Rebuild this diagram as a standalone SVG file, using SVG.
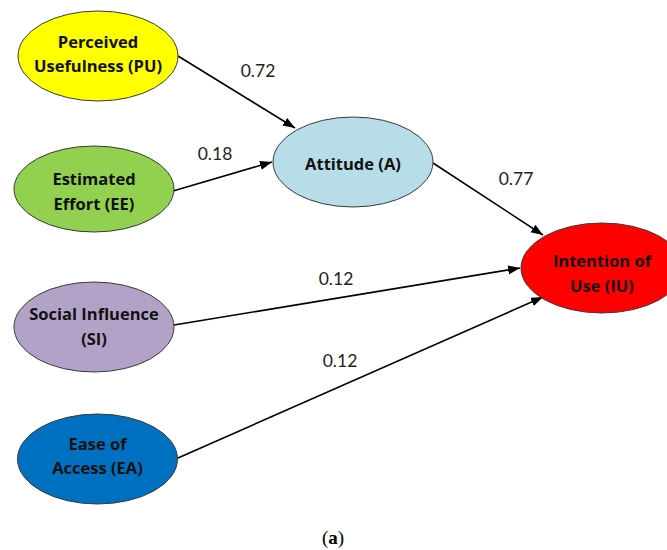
<svg xmlns="http://www.w3.org/2000/svg" width="667" height="550" viewBox="0 0 667 550">
<style>
.n{stroke:#3a3a3a;stroke-width:1}
.t{font-family:"Open Sans",Lato,"Liberation Sans",sans-serif;font-weight:bold;font-size:16.5px;fill:#111;text-anchor:middle}
.l{font-family:Lato,"Open Sans","Liberation Sans",sans-serif;font-size:17.5px;fill:#222;text-anchor:middle}
.c{stroke:#000;stroke-width:1.6;fill:none;marker-end:url(#ah)}
</style>
<defs>
<marker id="ah" markerUnits="userSpaceOnUse" markerWidth="13" markerHeight="10" refX="12" refY="4.5" orient="auto">
<path d="M0,0 L12,4.5 L0,9 z" fill="#000"/>
</marker>
</defs>
<rect width="667" height="550" fill="#fff"/>
<g id="connectors">
<line class="c" x1="178" y1="56" x2="295" y2="128"/>
<line class="c" x1="173" y1="191" x2="272" y2="162"/>
<line class="c" x1="433" y1="163" x2="543" y2="235"/>
<line class="c" x1="174" y1="325" x2="520" y2="268"/>
<line class="c" x1="178" y1="458" x2="543" y2="297"/>
<text class="l" x="258" y="77">0.72</text>
<text class="l" x="215" y="160">0.18</text>
<text class="l" x="516" y="185">0.77</text>
<text class="l" x="336" y="285">0.12</text>
<text class="l" x="340" y="367">0.12</text>
</g>
<g id="PU">
<ellipse class="n" cx="98" cy="56" rx="80" ry="45" fill="#FFFF00"/>
<text class="t" x="98" y="48">Perceived</text>
<text class="t" x="98" y="72">Usefulness (PU)</text>
</g>
<g id="EE">
<ellipse class="n" cx="94" cy="189" rx="80" ry="43" fill="#92D050"/>
<text class="t" x="94" y="185">Estimated</text>
<text class="t" x="94" y="210">Effort (EE)</text>
</g>
<g id="A">
<ellipse class="n" cx="353" cy="162" rx="80" ry="45" fill="#B7DDE8"/>
<text class="t" x="353" y="170">Attitude (A)</text>
</g>
<g id="IU">
<ellipse class="n" cx="602" cy="268" rx="81" ry="45" fill="#FF0000"/>
<text class="t" x="602" y="267">Intention of</text>
<text class="t" x="602" y="292">Use (IU)</text>
</g>
<g id="SI">
<ellipse class="n" cx="94" cy="327" rx="80" ry="45" fill="#B3A2C7"/>
<text class="t" x="94" y="320">Social Influence</text>
<text class="t" x="94" y="345">(SI)</text>
</g>
<g id="EA">
<ellipse class="n" cx="97.5" cy="459" rx="80" ry="45" fill="#0070C0"/>
<text class="t" x="97.5" y="450">Ease of</text>
<text class="t" x="97.5" y="474">Access (EA)</text>
</g>
<text x="333" y="544" font-family="'Liberation Serif',serif" font-size="19" text-anchor="middle" fill="#000">(<tspan font-weight="bold">a</tspan>)</text>
</svg>
